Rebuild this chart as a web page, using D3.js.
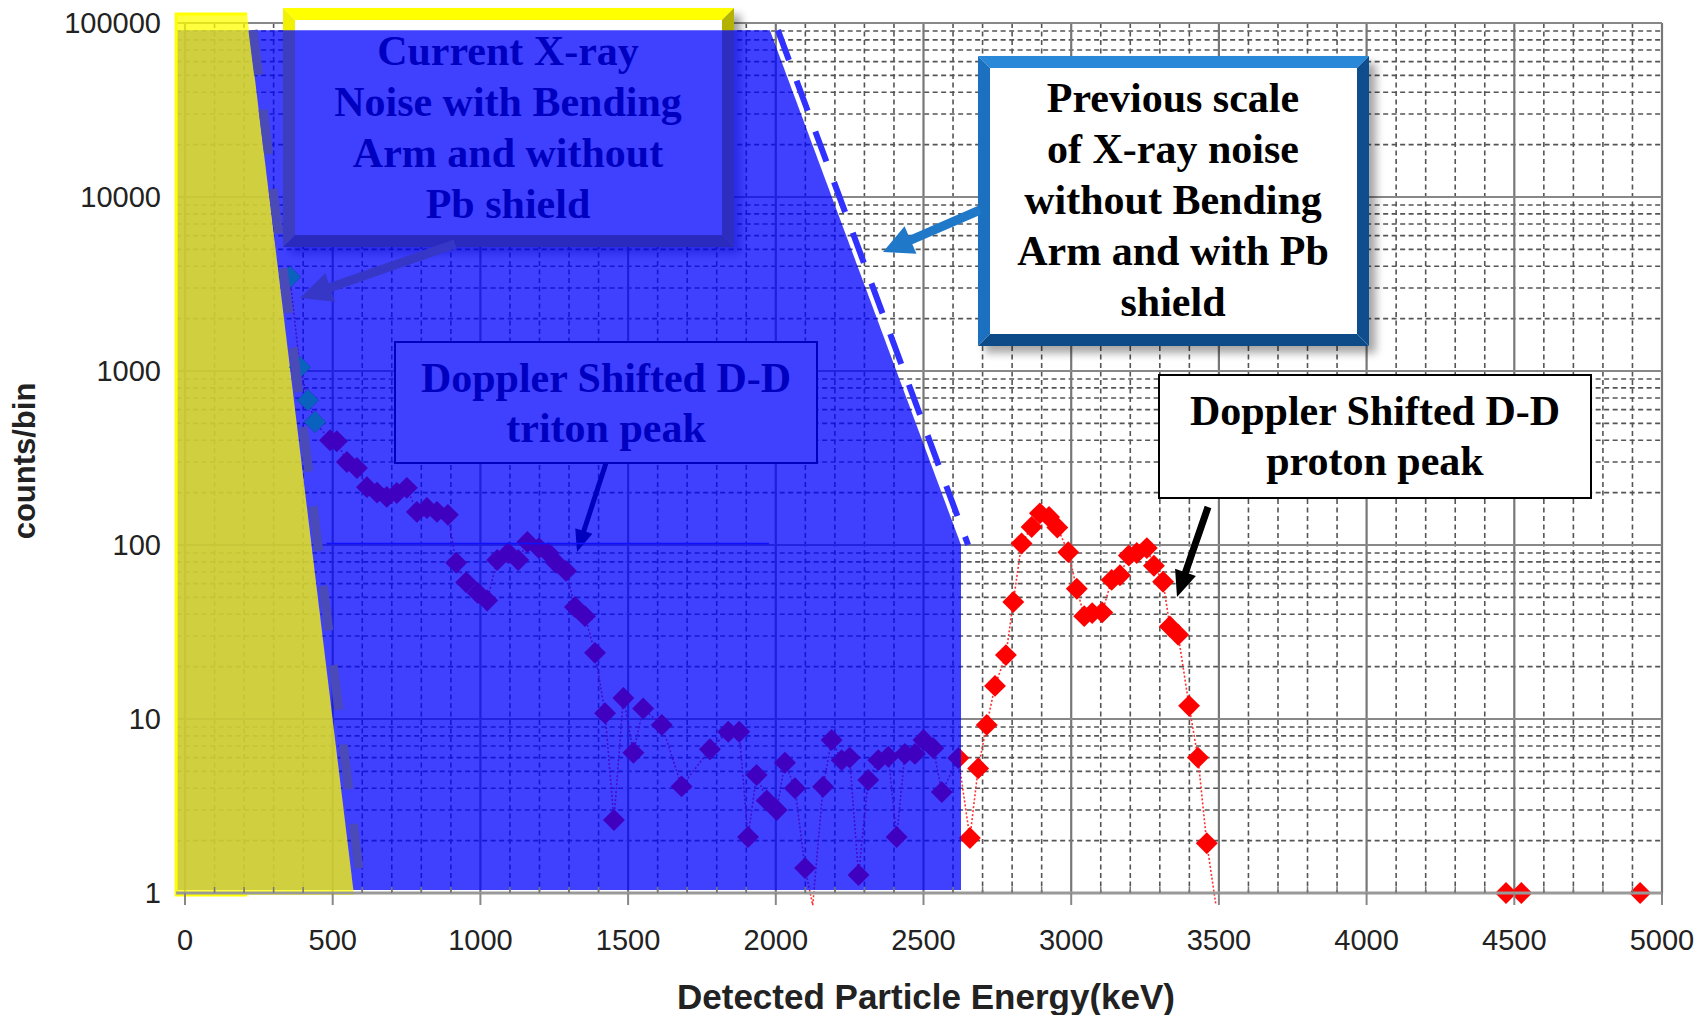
<!DOCTYPE html>
<html>
<head>
<meta charset="utf-8">
<script src="https://cdn.jsdelivr.net/npm/d3@7"></script>
<style>
  body { margin: 0; background: #fff; }
</style>
</head>
<body>
<script>
// detected energies (keV) and counts per bin (0 = empty bin)
var energy = [355, 389, 416, 440, 491, 514, 548, 582, 616, 650, 683, 717, 751, 785, 819, 853, 890,
  918, 952, 991, 1023, 1057, 1094, 1128, 1159, 1198, 1230, 1256, 1290, 1320, 1354, 1388, 1422,
  1452, 1484, 1518, 1551, 1614, 1681, 1777, 1839, 1876, 1906, 1935, 1969, 2003, 2031, 2065, 2099,
  2125, 2160, 2189, 2223, 2250, 2280, 2313, 2347, 2381, 2409, 2437, 2471, 2500, 2533, 2562, 2618,
  2657, 2685, 2714, 2742, 2779, 2804, 2832, 2866, 2894, 2925, 2953, 2990, 3019, 3044, 3071, 3105,
  3137, 3165, 3195, 3222, 3256, 3280, 3311, 3334, 3362, 3399, 3429, 3459, 3490, 4472, 4524, 4926];
var counts = [3470, 1050, 680, 510, 400, 395, 300, 277, 215, 200, 189, 199, 213, 155, 163, 155, 149,
  79, 61, 53, 48, 82, 90, 82, 104, 96, 90, 79, 71, 44, 39, 24, 10.8,
  2.63, 13.2, 6.4, 11.5, 9.25, 4.1, 6.7, 8.45, 8.45, 2.1, 4.77, 3.4, 3.0, 5.6, 4.0, 1.39,
  0, 4.08, 7.57, 5.8, 6.0, 1.27, 4.46, 5.8, 6.07, 2.1, 6.3, 6.3, 7.57, 6.8, 3.8, 5.97,
  2.07, 5.2, 9.25, 15.5, 23.3, 47, 102, 127, 152, 145, 126, 91, 56, 39, 40.6, 41,
  63, 67, 87, 90, 96, 76, 61.5, 34, 30.5, 11.9, 6.0, 1.93, 0, 1, 1, 1];

var xTicks = [0, 500, 1000, 1500, 2000, 2500, 3000, 3500, 4000, 4500, 5000];
var yTicks = [1, 10, 100, 1000, 10000, 100000];
var yTickLabels = ["1", "10", "100", "1000", "10000", "100000"];

var noteCurrent = ["Current X-ray", "Noise with Bending", "Arm and without", "Pb shield"];
var notePrevious = ["Previous scale", "of X-ray noise", "without Bending", "Arm and with Pb", "shield"];
var noteTriton = ["Doppler Shifted D-D", "triton peak"];
var noteProton = ["Doppler Shifted D-D", "proton peak"];

// shaded noise regions, in data units [keV, counts]
var currentNoise = [[-30, 112700], [210, 112700], [572, 0.974], [-30, 0.974]];
var previousNoise = [[-27, 91000], [1980, 91000], [2627, 100], [2627, 1.04], [-27, 1.04]];

var W = 1703, H = 1015;
var x = d3.scaleLinear().domain([0, 5000]).range([185, 1662]);
var y = d3.scaleLog().domain([1, 100000]).range([893, 23]);

var svg = d3.select("body").append("svg").attr("width", W).attr("height", H);
var defs = svg.append("defs");
defs.append("filter").attr("id", "shadow").attr("x", "-10%").attr("y", "-10%")
  .attr("width", "130%").attr("height", "130%")
  .append("feGaussianBlur").attr("stdDeviation", 4);

var serif = "'Liberation Serif', 'Times New Roman', serif";
var sans = "'Liberation Sans', Arial, sans-serif";

// ---- grid ----
var grid = svg.append("g");
var minorX = d3.range(100, 5000, 100).filter(function (d) { return d % 500 !== 0; });
var minorY = [];
for (var p = 0; p < 5; p++) for (var k = 2; k < 10; k++) minorY.push(k * Math.pow(10, p));

grid.selectAll(".mx").data(minorX).enter().append("line")
  .attr("x1", function (d) { return x(d); }).attr("x2", function (d) { return x(d); })
  .attr("y1", y(100000)).attr("y2", y(1))
  .attr("stroke", "#555").attr("stroke-width", 1.6).attr("stroke-dasharray", "5,3.5");
grid.selectAll(".my").data(minorY).enter().append("line")
  .attr("x1", x(-30)).attr("x2", x(5000))
  .attr("y1", function (d) { return y(d); }).attr("y2", function (d) { return y(d); })
  .attr("stroke", "#555").attr("stroke-width", 1.6).attr("stroke-dasharray", "5,3.5");
grid.selectAll(".Mx").data(xTicks).enter().append("line")
  .attr("x1", function (d) { return x(d); }).attr("x2", function (d) { return x(d); })
  .attr("y1", y(100000)).attr("y2", y(1))
  .attr("stroke", "#777").attr("stroke-width", 2.2);
grid.selectAll(".My").data(yTicks).enter().append("line")
  .attr("x1", x(-30)).attr("x2", x(5000))
  .attr("y1", function (d) { return y(d); }).attr("y2", function (d) { return y(d); })
  .attr("stroke", "#888").attr("stroke-width", 2.2);

// ---- data ----
var pts = energy.map(function (e, i) { return { e: e, c: counts[i] }; });
var line = d3.line()
  .x(function (d) { return x(d.e); })
  .y(function (d) { return y(d.c > 0 ? d.c : 0.85); });
svg.append("path")
  .datum(pts.filter(function (d) { return d.e < 4000; }))
  .attr("d", line).attr("fill", "none")
  .attr("stroke", "#ff3030").attr("stroke-width", 1.6).attr("stroke-dasharray", "2,2");

var diamond = d3.symbol().type(d3.symbolSquare).size(240);
svg.selectAll(".pt").data(pts.filter(function (d) { return d.c >= 1; })).enter().append("path")
  .attr("d", diamond)
  .attr("transform", function (d) { return "translate(" + x(d.e) + "," + y(d.c) + ") rotate(45)"; })
  .attr("fill", "#ff0000");

// ---- helpers ----
function bevelBox(g, x0, y0, x1, y1, t, cols) {
  g.append("rect").attr("x", x0 + 7).attr("y", y0 + 7).attr("width", x1 - x0).attr("height", y1 - y0)
    .attr("fill", "#000").attr("opacity", 0.35).attr("filter", "url(#shadow)");
  g.append("rect").attr("x", x0).attr("y", y0).attr("width", x1 - x0).attr("height", y1 - y0).attr("fill", "#fff");
  var sides = [
    [[x0, y0], [x1, y0], [x1 - t, y0 + t], [x0 + t, y0 + t]],
    [[x0, y0], [x0 + t, y0 + t], [x0 + t, y1 - t], [x0, y1]],
    [[x1, y0], [x1, y1], [x1 - t, y1 - t], [x1 - t, y0 + t]],
    [[x0, y1], [x0 + t, y1 - t], [x1 - t, y1 - t], [x1, y1]]
  ];
  sides.forEach(function (s, i) {
    g.append("polygon").attr("points", s.join(" ")).attr("fill", cols[i]);
  });
}
function arrow(g, x1, y1, x2, y2, w, hl, hw, fill) {
  var dx = x2 - x1, dy = y2 - y1, L = Math.hypot(dx, dy), ux = dx / L, uy = dy / L, px = -uy, py = ux;
  var bx = x2 - ux * hl, by = y2 - uy * hl;
  var P = [
    [x1 + px * w / 2, y1 + py * w / 2], [bx + px * w / 2, by + py * w / 2], [bx + px * hw / 2, by + py * hw / 2],
    [x2, y2],
    [bx - px * hw / 2, by - py * hw / 2], [bx - px * w / 2, by - py * w / 2], [x1 - px * w / 2, y1 - py * w / 2]
  ];
  g.append("polygon").attr("points", P.join(" ")).attr("fill", fill);
}
function lines(g, arr, cx, y0, step, size, color) {
  g.selectAll(null).data(arr).enter().append("text")
    .attr("x", cx).attr("y", function (d, i) { return y0 + i * step; })
    .attr("text-anchor", "middle").attr("font-family", serif).attr("font-weight", "bold")
    .attr("font-size", size).attr("fill", color).text(function (d) { return d; });
}

// ---- notes that sit under the blue shading ----
var under = svg.append("g");
bevelBox(under, 283, 8, 734, 247, 12, ["#ffff00", "#f2f200", "#b4b400", "#a8a800"]);
lines(under, noteCurrent, 508, 65, 51, 42, "#000");
arrow(under, 455, 244, 300, 298, 9, 32, 30, "#d8d820");

under.append("rect").attr("x", 395).attr("y", 342).attr("width", 422).attr("height", 121)
  .attr("fill", "#fff").attr("stroke", "#000").attr("stroke-width", 2);
lines(under, noteTriton, 606, 392, 50, 42, "#000");
arrow(under, 606, 463, 577, 552, 5, 22, 18, "#000");

// ---- shaded regions ----
var poly = function (arr) { return arr.map(function (d) { return [x(d[0]), y(d[1])]; }).join(" "); };
svg.append("polygon").attr("points", poly(previousNoise)).attr("fill", "rgba(0,0,255,0.75)");
svg.append("polygon").attr("points", poly(currentNoise)).attr("fill", "rgba(255,255,0,0.75)");
svg.append("path")
  .attr("d", "M" + [x(210), y(0.974)] + "L" + [x(-30), y(0.974)] + "L" + [x(-30), y(112700)] + "L" + [x(210), y(112700)])
  .attr("fill", "none").attr("stroke", "#ffff00").attr("stroke-width", 3);

// edge points that show above the shading
svg.selectAll(".tp").data(pts.filter(function (d) { return d.e < 450; })).enter().append("path")
  .attr("d", diamond)
  .attr("transform", function (d) { return "translate(" + x(d.e) + "," + y(d.c) + ") rotate(45)"; })
  .attr("fill", "#0862be");

// current noise edge (dashed)
svg.append("line").attr("x1", x(230)).attr("y1", y(91000)).attr("x2", x(599)).attr("y2", y(1))
  .attr("stroke", "#4a4ab8").attr("stroke-width", 9).attr("stroke-dasharray", "45,35");
// previous noise edge (dashed)
svg.append("line").attr("x1", x(2007)).attr("y1", y(91000)).attr("x2", x(2651)).attr("y2", y(100))
  .attr("stroke", "#3030ff").attr("stroke-width", 6).attr("stroke-dasharray", "32,22");
svg.append("line").attr("x1", x(479)).attr("x2", x(1977)).attr("y1", y(102)).attr("y2", y(102))
  .attr("stroke", "#1010ff").attr("stroke-width", 1.5);

// ---- axes ----
var ax = svg.append("g");
ax.append("line").attr("x1", x(-30)).attr("x2", x(5000)).attr("y1", y(1)).attr("y2", y(1))
  .attr("stroke", "#999").attr("stroke-width", 3);
ax.selectAll(".tk").data(xTicks).enter().append("line")
  .attr("x1", function (d) { return x(d); }).attr("x2", function (d) { return x(d); })
  .attr("y1", y(1)).attr("y2", y(1) + 12).attr("stroke", "#888").attr("stroke-width", 2);
ax.selectAll(".mt").data(minorX).enter().append("line")
  .attr("x1", function (d) { return x(d); }).attr("x2", function (d) { return x(d); })
  .attr("y1", y(1) - 6).attr("y2", y(1)).attr("stroke", "#777").attr("stroke-width", 1.5);
ax.selectAll(".xl").data(xTicks).enter().append("text")
  .attr("x", function (d) { return x(d); }).attr("y", 950)
  .attr("text-anchor", "middle").attr("font-family", sans).attr("font-size", 29).attr("fill", "#222")
  .text(function (d) { return d; });
ax.selectAll(".yl").data(yTicks).enter().append("text")
  .attr("x", 161).attr("y", function (d) { return y(d); }).attr("dy", "0.36em")
  .attr("text-anchor", "end").attr("font-family", sans).attr("font-size", 29).attr("fill", "#222")
  .text(function (d, i) { return yTickLabels[i]; });
ax.append("text").attr("x", 926).attr("y", 1009).attr("text-anchor", "middle")
  .attr("font-family", sans).attr("font-weight", "bold").attr("font-size", 35).attr("fill", "#222")
  .text("Detected Particle Energy(keV)");
ax.append("text").attr("transform", "translate(24,461) rotate(-90)").attr("dy", "0.36em")
  .attr("text-anchor", "middle").attr("font-family", sans).attr("font-weight", "bold")
  .attr("font-size", 31).attr("fill", "#222").text("counts/bin");

// ---- notes on top ----
var upper = svg.append("g");
bevelBox(upper, 978, 56, 1369, 346, 12, ["#2a88d8", "#1b70c0", "#0f4e8e", "#0c4a88"]);
lines(upper, notePrevious, 1173, 112, 51, 42, "#000");
arrow(upper, 980, 210, 883, 252, 9, 30, 30, "#1f78c8");

upper.append("rect").attr("x", 1159).attr("y", 375).attr("width", 432).attr("height", 123)
  .attr("fill", "#fff").attr("stroke", "#000").attr("stroke-width", 2);
lines(upper, noteProton, 1375, 425, 50, 42, "#000");
arrow(upper, 1208, 507, 1177, 597, 7, 26, 22, "#000");
</script>
</body>
</html>
